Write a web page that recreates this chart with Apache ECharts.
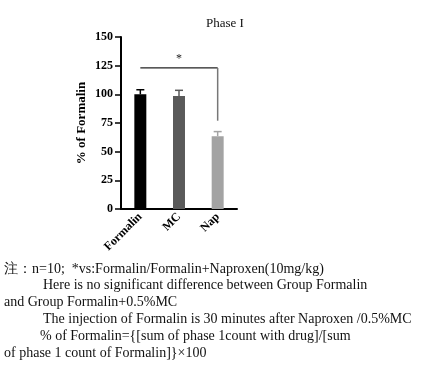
<!DOCTYPE html>
<html>
<head>
<meta charset="utf-8">
<script src="https://cdn.jsdelivr.net/npm/echarts@6/dist/echarts.min.js"></script>
<style>
  html, body { margin: 0; padding: 0; background: #fff; }
  #chart { width: 435px; height: 376px; }
</style>
</head>
<body>
<div id="chart"></div>
<script>
// groups and values (% of Formalin)
var groups = ['Formalin', 'MC', 'Nap']
var means = [100, 98.5, 63.5]
var errs = [4, 5, 4]
var barColors = ['#000000', '#5a5a5a', '#a3a3a3']
var yTicks = [0, 25, 50, 75, 100, 125, 150]
// significance bracket: from group 0 to group 2 at this level
var sigLevel = 123
var sigDrop = 77

var noteLines = [
  '注：n=10;  *vs:Formalin/Formalin+Naproxen(10mg/kg)',
  'Here is no significant difference between Group Formalin',
  'and Group Formalin+0.5%MC',
  'The injection of Formalin is 30 minutes after Naproxen /0.5%MC',
  '% of Formalin={[sum of phase 1count with drug]/[sum',
  'of phase 1 count of Formalin]}×100'
]
var noteIndent = [4, 43, 4, 43, 40, 4]

var serif = '"Liberation Serif", "Times New Roman", serif'
var myChart = echarts.init(document.getElementById('chart'))

var notes = noteLines.map(function (t, i) {
  return {
    type: 'text',
    left: noteIndent[i],
    top: 262 + i * 16.8,
    style: { text: t, font: '14px ' + serif, fill: '#111' }
  }
})

var option = {
  animation: false,
  title: {
    text: 'Phase I',
    left: 201,
    top: 12,
    textStyle: { fontFamily: serif, fontSize: 13, fontWeight: 'normal', color: '#111' }
  },
  grid: { left: 121, right: 198, top: 37, bottom: 167 },
  xAxis: {
    type: 'category',
    data: groups,
    axisLine: { lineStyle: { color: '#000', width: 2 } },
    axisTick: { show: false },
    axisLabel: {
      rotate: 45,
      margin: 6,
      fontFamily: serif,
      fontWeight: 'bold',
      fontSize: 12,
      color: '#000'
    }
  },
  yAxis: {
    type: 'value',
    min: 0,
    max: 150,
    interval: 25,
    name: '% of Formalin',
    nameLocation: 'middle',
    nameGap: 33,
    nameTextStyle: { fontFamily: serif, fontWeight: 'bold', fontSize: 13, color: '#000' },
    axisLine: { show: true, lineStyle: { color: '#000', width: 2 } },
    axisTick: { show: true, length: 6, lineStyle: { color: '#000', width: 1.5 } },
    splitLine: { show: false },
    axisLabel: {
      margin: 8,
      fontFamily: serif,
      fontWeight: 'bold',
      fontSize: 12,
      color: '#000',
      formatter: function (v) { return yTicks.indexOf(v) >= 0 ? String(v) : '' }
    }
  },
  series: [
    {
      type: 'bar',
      barWidth: '31%',
      data: means.map(function (v, i) {
        return { value: v, itemStyle: { color: barColors[i] } }
      })
    },
    {
      // error bars (upper only)
      type: 'custom',
      data: means.map(function (v, i) { return [i, v, v + errs[i]] }),
      renderItem: function (params, api) {
        var i = api.value(0)
        var lo = api.coord([i, api.value(1)])
        var hi = api.coord([i, api.value(2)])
        var half = 4
        var c = barColors[i]
        return {
          type: 'group',
          children: [
            { type: 'line', shape: { x1: lo[0], y1: lo[1], x2: hi[0], y2: hi[1] }, style: { stroke: c, lineWidth: 1.5 } },
            { type: 'line', shape: { x1: hi[0] - half, y1: hi[1], x2: hi[0] + half, y2: hi[1] }, style: { stroke: c, lineWidth: 1.5 } }
          ]
        }
      }
    },
    {
      // significance bracket
      type: 'custom',
      data: [[0, 2, sigLevel, sigDrop]],
      renderItem: function (params, api) {
        var a = api.coord([api.value(0), api.value(2)])
        var b = api.coord([api.value(1), api.value(2)])
        var d = api.coord([api.value(1), api.value(3)])
        return {
          type: 'group',
          children: [
            { type: 'line', shape: { x1: a[0], y1: a[1], x2: b[0], y2: b[1] }, style: { stroke: '#222', lineWidth: 1.2 } },
            { type: 'line', shape: { x1: b[0], y1: b[1], x2: d[0], y2: d[1] }, style: { stroke: '#777', lineWidth: 1.5 } },
            {
              type: 'text',
              style: {
                text: '*', x: (a[0] + b[0]) / 2, y: a[1] - 9,
                align: 'center', verticalAlign: 'middle',
                font: '12px ' + serif, fill: '#222'
              }
            }
          ]
        }
      }
    }
  ],
  graphic: notes
}

myChart.setOption(option, true)
</script>
</body>
</html>
